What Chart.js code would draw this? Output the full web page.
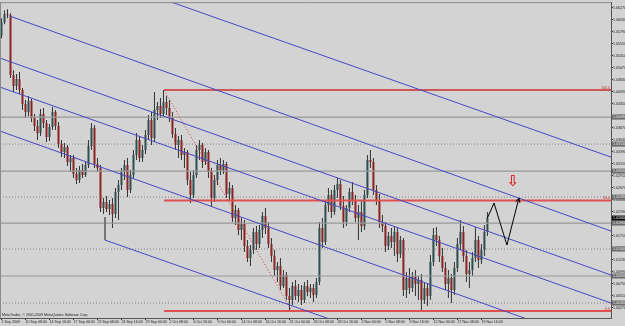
<!DOCTYPE html>
<html><head><meta charset="utf-8">
<script src="https://cdn.jsdelivr.net/npm/chart.js@4.4.0/dist/chart.umd.min.js"></script>
<style>html,body{margin:0;padding:0;background:#d3d3d3;overflow:hidden}</style>
</head><body><canvas id="c" width="625" height="326"></canvas>
<script>
// ---- candle data (H4 bars, price) ----
const openP = [1.0572,1.0598,1.0614,1.0612,1.0492,1.0470,1.0484,1.0462,1.0434,1.0418,
1.0440,1.0406,1.0390,1.0376,1.0414,1.0396,1.0368,1.0388,1.0418,1.0390,
1.0354,1.0338,1.0348,1.0318,1.0326,1.0294,1.0282,1.0302,1.0292,1.0312,
1.0350,1.0386,1.0314,1.0306,1.0226,1.0238,1.0224,1.0234,1.0214,1.0258,
1.0272,1.0298,1.0312,1.0262,1.0292,1.0332,1.0362,1.0326,1.0342,1.0372,
1.0402,1.0366,1.0422,1.0430,1.0414,1.0438,1.0426,1.0406,1.0374,1.0352,
1.0362,1.0332,1.0338,1.0282,1.0252,1.0292,1.0342,1.0352,1.0318,1.0338,
1.0298,1.0246,1.0282,1.0312,1.0302,1.0314,1.0254,1.0266,1.0206,1.0222,
1.0182,1.0194,1.0150,1.0126,1.0142,1.0178,1.0154,1.0182,1.0210,1.0186,
1.0154,1.0130,1.0102,1.0110,1.0070,1.0092,1.0050,1.0042,1.0070,1.0050,
1.0062,1.0042,1.0070,1.0058,1.0066,1.0052,1.0078,1.0186,1.0158,1.0232,
1.0252,1.0218,1.0262,1.0274,1.0230,1.0198,1.0226,1.0258,1.0242,1.0206,
1.0218,1.0190,1.0252,1.0322,1.0318,1.0262,1.0242,1.0198,1.0190,1.0150,
1.0170,1.0158,1.0178,1.0134,1.0162,1.0062,1.0086,1.0066,1.0090,1.0074,
1.0082,1.0042,1.0066,1.0050,1.0118,1.0172,1.0162,1.0130,1.0106,1.0074,
1.0086,1.0062,1.0106,1.0154,1.0178,1.0130,1.0094,1.0102,1.0126,1.0162,
1.0122,1.0142,1.0178];
const highP = [1.0606,1.0622,1.0624,1.0616,1.0502,1.0494,1.0498,1.0466,1.0442,1.0450,
1.0444,1.0414,1.0402,1.0424,1.0426,1.0402,1.0394,1.0428,1.0422,1.0398,
1.0362,1.0356,1.0352,1.0332,1.0332,1.0306,1.0310,1.0314,1.0318,1.0362,
1.0396,1.0392,1.0326,1.0312,1.0246,1.0250,1.0242,1.0246,1.0266,1.0282,
1.0306,1.0322,1.0326,1.0302,1.0342,1.0376,1.0370,1.0352,1.0382,1.0412,
1.0418,1.0458,1.0438,1.0446,1.0462,1.0450,1.0442,1.0418,1.0386,1.0370,
1.0372,1.0346,1.0342,1.0298,1.0302,1.0352,1.0362,1.0356,1.0346,1.0342,
1.0306,1.0292,1.0322,1.0326,1.0322,1.0318,1.0278,1.0272,1.0232,1.0226,
1.0206,1.0202,1.0162,1.0152,1.0186,1.0190,1.0192,1.0218,1.0226,1.0198,
1.0166,1.0142,1.0118,1.0126,1.0102,1.0098,1.0066,1.0078,1.0082,1.0074,
1.0072,1.0078,1.0082,1.0074,1.0074,1.0086,1.0198,1.0206,1.0242,1.0266,
1.0262,1.0272,1.0286,1.0282,1.0250,1.0232,1.0266,1.0278,1.0252,1.0232,
1.0242,1.0262,1.0332,1.0342,1.0326,1.0272,1.0254,1.0212,1.0198,1.0178,
1.0186,1.0190,1.0186,1.0170,1.0166,1.0098,1.0106,1.0098,1.0102,1.0090,
1.0094,1.0078,1.0074,1.0132,1.0186,1.0188,1.0170,1.0146,1.0118,1.0102,
1.0094,1.0118,1.0166,1.0202,1.0190,1.0142,1.0118,1.0138,1.0188,1.0170,
1.0154,1.0192,1.0218];
const lowP = [1.0566,1.0594,1.0606,1.0486,1.0458,1.0462,1.0454,1.0422,1.0406,1.0410,
1.0398,1.0380,1.0362,1.0370,1.0386,1.0358,1.0360,1.0382,1.0382,1.0346,
1.0328,1.0326,1.0310,1.0298,1.0286,1.0274,1.0276,1.0286,1.0288,1.0306,
1.0342,1.0306,1.0298,1.0218,1.0214,1.0218,1.0212,1.0186,1.0206,1.0202,
1.0262,1.0282,1.0248,1.0256,1.0286,1.0322,1.0318,1.0318,1.0334,1.0362,
1.0352,1.0358,1.0402,1.0406,1.0410,1.0412,1.0398,1.0366,1.0342,1.0326,
1.0322,1.0306,1.0272,1.0236,1.0246,1.0286,1.0322,1.0306,1.0312,1.0286,
1.0228,1.0238,1.0272,1.0292,1.0294,1.0246,1.0242,1.0198,1.0192,1.0172,
1.0162,1.0138,1.0118,1.0110,1.0134,1.0142,1.0146,1.0166,1.0174,1.0146,
1.0118,1.0090,1.0078,1.0062,1.0066,1.0042,1.0020,1.0032,1.0042,1.0038,
1.0032,1.0036,1.0050,1.0046,1.0038,1.0046,1.0072,1.0146,1.0152,1.0218,
1.0206,1.0212,1.0246,1.0222,1.0186,1.0190,1.0218,1.0232,1.0198,1.0162,
1.0178,1.0182,1.0246,1.0306,1.0252,1.0232,1.0186,1.0178,1.0138,1.0142,
1.0146,1.0130,1.0118,1.0126,1.0050,1.0046,1.0054,1.0058,1.0050,1.0042,
1.0022,1.0034,1.0030,1.0042,1.0110,1.0150,1.0118,1.0098,1.0062,1.0046,
1.0036,1.0052,1.0098,1.0142,1.0118,1.0078,1.0066,1.0090,1.0118,1.0106,
1.0114,1.0130,1.0170];
const closeP = [1.0598,1.0614,1.0612,1.0492,1.0470,1.0484,1.0462,1.0434,1.0418,1.0440,
1.0406,1.0390,1.0376,1.0414,1.0396,1.0368,1.0388,1.0418,1.0390,1.0354,
1.0338,1.0348,1.0318,1.0326,1.0294,1.0282,1.0302,1.0292,1.0312,1.0350,
1.0386,1.0314,1.0306,1.0226,1.0238,1.0224,1.0234,1.0214,1.0258,1.0272,
1.0298,1.0312,1.0262,1.0292,1.0332,1.0362,1.0326,1.0342,1.0372,1.0402,
1.0366,1.0422,1.0430,1.0414,1.0438,1.0426,1.0406,1.0374,1.0352,1.0362,
1.0332,1.0338,1.0282,1.0252,1.0292,1.0342,1.0352,1.0318,1.0338,1.0298,
1.0246,1.0282,1.0312,1.0302,1.0314,1.0254,1.0266,1.0206,1.0222,1.0182,
1.0194,1.0150,1.0126,1.0142,1.0178,1.0154,1.0182,1.0210,1.0186,1.0154,
1.0130,1.0102,1.0110,1.0070,1.0092,1.0050,1.0042,1.0070,1.0050,1.0062,
1.0042,1.0070,1.0058,1.0066,1.0052,1.0078,1.0186,1.0158,1.0232,1.0252,
1.0218,1.0262,1.0274,1.0230,1.0198,1.0226,1.0258,1.0242,1.0206,1.0218,
1.0190,1.0252,1.0322,1.0318,1.0262,1.0242,1.0198,1.0190,1.0150,1.0170,
1.0158,1.0178,1.0134,1.0162,1.0062,1.0086,1.0066,1.0090,1.0074,1.0082,
1.0042,1.0066,1.0050,1.0118,1.0172,1.0162,1.0130,1.0106,1.0074,1.0086,
1.0062,1.0106,1.0154,1.0178,1.0130,1.0094,1.0102,1.0126,1.0162,1.0122,
1.0142,1.0178,1.0206];

// ---- axis labels ----
const dateLabels = ["1 Sep 2009","10 Sep 08:00","14 Sep 16:00","17 Sep 00:00","22 Sep 08:00","24 Sep 16:00",
"29 Sep 00:00","2 Oct 08:00","6 Oct 16:00","9 Oct 00:00","14 Oct 08:00","16 Oct 16:00","21 Oct 00:00",
"26 Oct 08:00","28 Oct 16:00","2 Nov 00:00","5 Nov 08:00","9 Nov 16:00","12 Nov 00:00","17 Nov 08:00","19 Nov 16:00"];
const dateLabelBars = [0,8,16,24,32,40,48,56,64,72,80,88,96,104,112,120,128,136,144,152,160];
const priceTicks = [1.0627,1.0603,1.0579,1.0555,1.0531,1.0507,1.0483,1.0459,1.0435,1.0411,1.0387,1.0363,
1.0339,1.0315,1.0291,1.0267,1.0243,1.0219,1.0195,1.0171,1.0147,1.0123,1.0099,1.0075,1.0051,1.0027];
const xRange = [-0.5, 203.2];
const yRange = [1.0006, 1.0638];

// ---- drawn objects (bar index, price) ----
const channelA = [[-0.5,1.0759],[203.2,1.0328]];
const channelB = [[2.8,1.0610],[203.2,1.0180]];
const channelC = [[-0.5,1.0526],[203.2,1.0092]];
const channelD = [[-0.5,1.0468],[203.2,1.0036]];
const channelE = [[-0.5,1.0380],[203.2,0.9944]];
const channelF = [[34.5,1.0162],[203.2,0.9806]];
const forkHandle = [[34.5,1.0208],[34.5,1.0162]];
const levelsSolid = [1.0408,1.0300,1.0196,1.0090];
const levelsDotted = [1.0354,1.0248,1.0144,1.0036];
const fibLevels = [1.0462,1.0241,1.0020];
const fibNames = ["100.0","50.0","0.0"];
const fibFromBar = 54.2;
const fibDiagonal = [[54.2,1.0462],[96.8,1.0020]];
const forecastPath = [[162,1.0206],[164.2,1.0236],[168.5,1.0152],[172.5,1.0246]];
const markerPos = [170.5,1.0278];

const BULL = '#2f4f4f', BEAR = '#8b2323', WICK = '#333333';
const FONT = {family:'"Liberation Sans", Arial, sans-serif', size:3.6};

const idx = closeP.map((_, i) => i);
const pts = a => a.map(([x, y]) => ({x, y}));
const lineDs = (points, color, width, dash, order) => ({
  type:'line', data: pts(points), borderColor: color, borderWidth: width,
  borderDash: dash || [], pointRadius: 0, fill: false, tension: 0, order: order, clip: 0
});

const datasets = [
  {type:'bar', data: idx.map(i => ({x:i, y:[lowP[i], highP[i]]})), backgroundColor: WICK,
   barThickness: 1, grouped: false, order: 4, inflateAmount: 0, borderWidth: 0},
  {type:'bar', data: idx.map(i => ({x:i, y:[openP[i], closeP[i]]})),
   backgroundColor: idx.map(i => closeP[i] >= openP[i] ? BULL : BEAR),
   barThickness: 2, grouped: false, order: 3, inflateAmount: 0, borderWidth: 0, minBarLength: 1},
];
levelsSolid.forEach(v => datasets.push(lineDs([[xRange[0], v],[xRange[1], v]], '#999999', 1.2, null, 2)));
levelsDotted.forEach(v => datasets.push(lineDs([[xRange[0], v],[xRange[1], v]], '#858585', 1, [1,2], 2)));
[channelA, channelB, channelC, channelD, channelE, channelF].forEach(c =>
  datasets.push(lineDs(c, '#4848c4', 1, null, 1)));
datasets.push(lineDs(forkHandle, '#6a6a6a', 1, null, 1));
fibLevels.forEach((v, k) => datasets.push(lineDs([[fibFromBar, v],[xRange[1], v]], k === 0 ? '#c83030' : '#e05050', k === 0 ? 1.5 : 2, null, 1)));
datasets.push(lineDs(fibDiagonal, '#d04040', 1, [1,2], 1));
datasets.push(lineDs(forecastPath, '#000000', 1, null, 0));
const zigIndex = datasets.length - 1;

const bgPlugin = {
  id: 'bg',
  beforeDraw(chart) {
    const c = chart.ctx;
    c.save(); c.fillStyle = '#d3d3d3'; c.fillRect(0, 0, chart.width, chart.height); c.restore();
  },
  afterDatasetsDraw(chart) {
    const c = chart.ctx, a = chart.chartArea, xs = chart.scales.x, ys = chart.scales.y;
    c.save();
    c.strokeStyle = '#8a8a8a'; c.lineWidth = 1;
    c.beginPath(); c.moveTo(a.left, a.top + 0.5); c.lineTo(a.right, a.top + 0.5);
    c.moveTo(a.left + 0.5, a.top); c.lineTo(a.left + 0.5, a.bottom); c.stroke();
    const m = chart.getDatasetMeta(zigIndex).data;
    const p1 = m[m.length - 2], p2 = m[m.length - 1];
    const ang = Math.atan2(p2.y - p1.y, p2.x - p1.x);
    c.strokeStyle = '#000'; c.lineWidth = 1; c.beginPath();
    c.moveTo(p2.x - 5 * Math.cos(ang - 0.45), p2.y - 5 * Math.sin(ang - 0.45));
    c.lineTo(p2.x, p2.y);
    c.lineTo(p2.x - 5 * Math.cos(ang + 0.45), p2.y - 5 * Math.sin(ang + 0.45));
    c.stroke();
    c.font = '3.6px "Liberation Sans", Arial, sans-serif';
    c.fillStyle = '#c83030'; c.textAlign = 'right'; c.textBaseline = 'bottom';
    fibLevels.forEach((v, k) => c.fillText(fibNames[k], a.right - 1, ys.getPixelForValue(v) - 0.5));
    c.font = 'bold 15px "DejaVu Sans", sans-serif'; c.textAlign = 'center'; c.textBaseline = 'middle';
    c.fillStyle = '#e02828';
    c.fillText('\u21E9', xs.getPixelForValue(markerPos[0]), ys.getPixelForValue(markerPos[1]));
    c.font = '3.6px "Liberation Sans", Arial, sans-serif'; c.fillStyle = '#222';
    c.textAlign = 'left'; c.textBaseline = 'bottom';
    c.fillText('MetaTrader, \u00A9 2001-2009 MetaQuotes Software Corp.', a.left + 2, a.bottom - 1);
    c.restore();
  },
  afterDraw(chart) {
    const c = chart.ctx, a = chart.chartArea, ys = chart.scales.y;
    c.save();
    c.font = '3.6px "Liberation Sans", Arial, sans-serif'; c.textAlign = 'left'; c.textBaseline = 'middle';
    const box = (v, bg, fg) => {
      const y = ys.getPixelForValue(v);
      c.fillStyle = bg; c.fillRect(a.right + 1, y - 2.5, 14, 5);
      c.fillStyle = fg; c.fillText(v.toFixed(5), a.right + 2, y);
    };
    levelsSolid.concat(levelsDotted).forEach(v => box(v, '#6c6c6c', '#e8e8e8'));
    box(closeP[closeP.length - 1], '#000000', '#ffffff');
    c.restore();
  }
};

new Chart(document.getElementById('c'), {
  type: 'bar',
  data: { datasets },
  options: {
    responsive: false, animation: false, events: [],
    layout: { padding: { top: 2, left: 0, right: 0, bottom: 0 } },
    plugins: { legend: { display: false }, tooltip: { enabled: false } },
    scales: {
      x: {
        type: 'linear', min: xRange[0], max: xRange[1], offset: false,
        grid: { offset: false, drawOnChartArea: false, drawTicks: true, tickLength: 2, color: '#333' },
        border: { display: true, color: '#555' },
        ticks: { autoSkip: false, maxRotation: 0, minRotation: 0, align: 'start', padding: 0,
          font: FONT, color: '#1a1a1a',
          callback: v => { const k = dateLabelBars.indexOf(v); return k >= 0 ? dateLabels[k] : ''; } },
        afterBuildTicks: s => { s.ticks = dateLabelBars.map(v => ({ value: v })); },
        afterFit: s => { s.height = 8; }
      },
      y: {
        type: 'linear', position: 'right', min: yRange[0], max: yRange[1],
        grid: { drawOnChartArea: false, drawTicks: true, tickLength: 2, color: '#333' },
        border: { display: true, color: '#555' },
        ticks: { padding: 0, font: FONT, color: '#1a1a1a', callback: v => v.toFixed(5) },
        afterBuildTicks: s => { s.ticks = priceTicks.map(v => ({ value: v })); },
        afterFit: s => { s.width = 14; }
      }
    }
  },
  plugins: [bgPlugin]
});
</script></body></html>
